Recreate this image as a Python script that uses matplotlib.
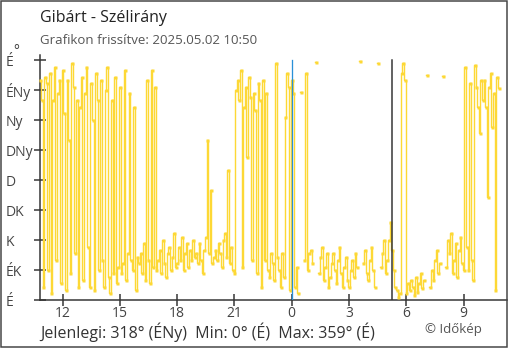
import numpy as np
import matplotlib

matplotlib.use('Agg')
import matplotlib.pyplot as plt
import matplotlib.transforms as mtransforms
from matplotlib.patches import Rectangle

plt.rcParams['font.family'] = ['Open Sans', 'DejaVu Sans']

# szélirány (fok), 5 percenként 10:50-től; None = hiányzó mérés
h10 = [330, 300]
h11 = [20, 335, 325, 45, 340, 10, 300, 350, 60, 310, 330, 25]
h12 = [345, 280, 15, 330, 240, 40, 355, 320, 70, 300, 20, 290]
h13 = [335, 30, 310, 350, 80, 20, 325, 270, 15, 340, 300, 45]
h14 = [330, 60, 20, 315, 350, 35, 10, 300, 40, 335, 25, 50]
h15 = [320, 40, 55, 345, 30, 70, 310, 60, 45, 290, 15, 65]
h16 = [55, 70, 40, 85, 30, 330, 60, 25, 345, 50, 320, 45]
h17 = [60, 75, 40, 90, 55, 35, 70, 80, 45, 65, 100, 50]
h18 = [55, 80, 60, 95, 45, 70, 85, 50, 75, 60, 90, 65]
h19 = [70, 55, 85, 60, 40, 75, 95, 240, 70, 165, 55, 65]
h20 = [75, 60, 85, 70, 50, 90, 100, 65, 195, 55, 80, 45]
h21 = [40, 315, 330, 300, 345, 50, 290, 320, 215, 335, 305, 60]
h22 = [310, 285, 40, 325, 300, 20, 330, 60, 310, 45, 35, 70]
h23 = [55, 30, 355, 65, 45, 20, 70, 35, 275, 340, 320, 15]
h00 = [330, 310, 20, 50, 10, None, 312, None, 60, 340, 45, 70]
h01 = [75, 55, None, 357, None, 40, 65, 80, 30, 50, 70, 20]
h02 = [35, 55, 70, 45, 25, 60, 80, 40, 20, 50, 65, 30]
h03 = [20, 45, 60, 35, 70, 50, None, 358, None, 55, 75, 40]
h04 = [30, 60, 80, 45, 20, None, 356, None, 50, 70, 90, 40]
h05 = [60, 90, 117, 75, 45, 20, 15, 5, 10, 340, 355, 330]
h06 = [10, 25, 15, 30, 20, 8, 35, 12, 25, 40, 18, 30]
h07 = [None, 338, None, 20, 45, 30, 60, 75, 40, 55, None, 336]
h08 = [None, 50, 90, 70, 100, 40, 60, 85, 35, 75, 95, 55]
h09 = [45, 350, 80, 45, 325, 60, 30, 352, 320, 290, 250, 330]
h10b = [300, 330, 290, 155, 320, 340, 260, 310, 15, 335, 318]

direction = (h10 + h11 + h12 + h13 + h14 + h15 + h16 + h17 + h18 + h19 + h20 + h21
             + h22 + h23 + h00 + h01 + h02 + h03 + h04 + h05 + h06 + h07 + h08 + h09 + h10b)
direction = np.array([np.nan if v is None else v for v in direction], dtype=float)
hours = 10 + 50 / 60 + np.arange(len(direction)) * 5 / 60

x_ticks = [12, 15, 18, 21, 24, 27, 30, 33]
x_labels = ['12', '15', '18', '21', '0', '3', '6', '9']
y_ticks = [0, 45, 90, 135, 180, 225, 270, 315, 360]
y_labels = ['É', 'ÉK', 'K', 'DK', 'D', 'DNy', 'Ny', 'ÉNy', 'É']
midnight = 24
now_line = 29.25

current, dmin, dmax = 318, 0, 359

W, H = 510, 350
PT = 72 / 100  # pixel -> pont
fig = plt.figure(figsize=(W / 100, H / 100), dpi=100)
ax = fig.add_axes([40 / W, (H - 300) / H, 467 / W, 245 / H])

yellow = '#fdd835'
ax.plot(hours, direction, color=yellow, lw=1.4 * PT, drawstyle='steps-mid',
        clip_on=False, zorder=3)
ax.plot(hours, direction, ls='none', marker='s', ms=3.0 * PT,
        mec='none', mfc=yellow, clip_on=False, zorder=3)

ax.axvline(midnight, color='#2a90d8', lw=1.3 * PT, ymax=360 / 367.5, zorder=4)
ax.axvline(now_line, color='#333333', lw=1.5 * PT, ymax=360 / 367.5, zorder=4)

ax.set_xlim(10.82, 35.27)
ax.set_ylim(0, 367.5)

for s in ['top', 'right']:
    ax.spines[s].set_visible(False)
for s in ['left', 'bottom']:
    ax.spines[s].set_color('#333333')
    ax.spines[s].set_linewidth(1.5 * PT)

ax.set_xticks(x_ticks)
ax.set_xticklabels(x_labels)
ax.set_yticks(y_ticks)
ax.set_yticklabels(y_labels)
ax.tick_params(axis='both', direction='inout', length=12 * PT, width=1.5 * PT,
               color='#333333', labelcolor='#444444', labelsize=10)
ax.tick_params(axis='x', pad=0)
ax.tick_params(axis='y', pad=28 * PT)
for lbl in ax.get_yticklabels():
    lbl.set_horizontalalignment('left')

# fok jel a tengely tetején
trans = mtransforms.blended_transform_factory(fig.transFigure, ax.transData)
ax.text(16 / W, 373, '°', transform=trans, fontsize=10, color='#444444',
        ha='center', va='center', clip_on=False)

fig.text(40 / W, 1 - 18 / H, 'Gibárt - Szélirány', fontsize=11.5,
         color='#222222', va='center')
fig.text(40 / W, 1 - 40 / H, 'Grafikon frissítve: 2025.05.02 10:50',
         fontsize=9.5, color='#555555', va='center')
fig.text(40 / W, 1 - 332 / H,
         f'Jelenlegi: {current}° (ÉNy)  Min: {dmin}° (É)  Max: {dmax}° (É)',
         fontsize=11.5, color='#333333', va='center')
fig.text(482 / W, 1 - 330 / H, '© Időkép', fontsize=9.5, color='#555555',
         va='center', ha='right')

fig.patches.append(Rectangle((0.5 / W, 3.5 / H), 507 / W, 346 / H,
                             transform=fig.transFigure, fill=False,
                             ec='#444444', lw=1.5 * PT))

fig.savefig('out.png', dpi=100)
